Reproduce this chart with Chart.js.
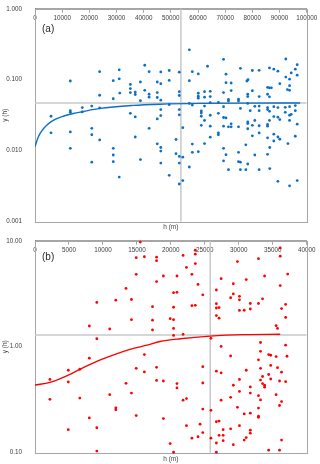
<!DOCTYPE html>
<html lang="en">
<head>
<meta charset="UTF-8">
<title>y(h) vs h</title>
<style>
    body { margin: 0; background: #fff; }
    .box { position: relative; width: 320px; height: 232px; }
</style>
</head>
<body>
<div class="box"><canvas id="chartA"></canvas></div>
<div class="box"><canvas id="chartB"></canvas></div>

<script src="https://cdn.jsdelivr.net/npm/chart.js"></script>
<script>
// ---- panel (a) ----
const aH = [23800,13000,31000,28800,31000,40400,42000,35100,35100,35100,
    38800,45000,31200,36900,36900,40400,42000,42000,45000,45000,
    23800,28800,38800,20900,23800,17400,17400,13000,13000,5900,
    35100,36900,45000,5900,13000,20900,20900,23800,42000,36900,
    45000,13000,28800,28800,28800,20900,38800,31000,
    56800,69400,92300,63500,75600,86300,87900,89400,96500,95800,
    46300,49400,53100,57900,60100,70300,80000,82500,94300,96500,
    92300,93700,46300,49400,56800,70300,72200,78000,78400,90100,
    93700,85600,86300,87000,72200,62400,64500,69400,80000,92900,
    93700,53100,53100,60100,60100,60100,62400,64500,78300,78300,
    85600,82500,86300,46300,71200,71200,74900,74900,56800,57900,
    64500,67500,69400,75600,78300,80900,82500,85600,87900,89400,
    92100,93700,95800,46300,49400,53100,61200,61200,62400,64500,
    67500,69400,70300,79200,82500,85600,86300,46300,53100,61200,
    62400,80900,86300,89400,90100,93700,92100,94300,95800,93700,
    87900,78300,
    54400,64500,61200,69400,71200,72200,72200,74900,78300,78300,
    80000,80000,82500,82500,85600,85600,96500,87900,89400,90100,
    87900,85600,95800,93100,51900,67500,67500,64500,62400,57900,
    60100,57900,77600,69400,86400,46300,46300,51900,53100,54400,
    70300,74900,80900,85600,69400,74900,75600,78300,46300,53100,
    56800,71200,75600,77600,82500,86400,49400,54400,53100,89400,
    96500,93700];
const aY = [0.130,0.096,0.138,0.097,0.103,0.160,0.130,0.086,0.075,0.066,
    0.093,0.093,0.065,0.067,0.062,0.071,0.0625,0.0568,0.066,0.0562,
    0.0605,0.054,0.0506,0.0426,0.040,0.0405,0.0352,0.0367,0.0348,0.0306,
    0.0337,0.0299,0.0281,0.0179,0.0184,0.0207,0.0168,0.0142,0.0207,0.0156,
    0.0125,0.0108,0.0108,0.0087,0.0070,0.0069,0.0075,0.00426,
    0.264,0.194,0.196,0.155,0.145,0.147,0.141,0.132,0.163,0.141,
    0.129,0.135,0.128,0.130,0.121,0.120,0.135,0.136,0.125,0.116,
    0.109,0.102,0.088,0.098,0.097,0.091,0.090,0.096,0.100,0.088,
    0.0825,0.078,0.077,0.077,0.0703,0.068,0.0688,0.066,0.070,0.0726,
    0.071,0.068,0.060,0.0645,0.0586,0.055,0.0568,0.058,0.0625,0.058,
    0.0625,0.058,0.0575,0.0516,0.0527,0.050,0.0533,0.050,0.0464,0.044,
    0.0475,0.048,0.0418,0.0395,0.0464,0.0422,0.0426,0.0405,0.0418,0.0405,
    0.0409,0.0418,0.0432,0.038,0.0445,0.038,0.0363,0.034,0.0426,0.0316,
    0.0337,0.0294,0.029,0.0367,0.0367,0.038,0.0359,0.0313,0.032,0.0306,
    0.0267,0.0267,0.0267,0.0297,0.0275,0.0267,0.0348,0.0326,0.0367,0.0316,
    0.0303,0.0255,
    0.0211,0.0222,0.0228,0.0222,0.0217,0.0217,0.0239,0.0217,0.0242,0.0204,
    0.0228,0.0162,0.0225,0.0178,0.0235,0.0222,0.0237,0.0171,0.0156,0.0145,
    0.0137,0.0152,0.016,0.0126,0.0144,0.0179,0.0168,0.0155,0.0126,0.0124,
    0.0097,0.0095,0.0121,0.0108,0.0111,0.0111,0.0099,0.0091,0.0083,0.0081,
    0.0088,0.0095,0.0087,0.0089,0.0072,0.0070,0.0069,0.0065,0.0067,0.0067,
    0.0059,0.0054,0.0054,0.0054,0.0054,0.0056,0.0045,0.0038,0.0034,0.0037,
    0.0038,0.0032];
// fitted model
const aFitH = [0,1200,2500,4300,6700,10400,14100,17300,23900,36100,46000,60800,79200,97600];
const aFitY = [0.0114,0.0156,0.019,0.0228,0.0267,0.0306,0.0334,0.0354,0.0395,0.0435,0.0452,0.0464,0.0469,0.047];
const aSill = 0.047;
const aRange = 53700;
const aXTicks = [0,10000,20000,30000,40000,50000,60000,70000,80000,90000,100000];
const aYTicks = [0.001,0.01,0.1,1];

// ---- panel (b) ----
const bH = [15500,14900,16100,17900,17900,14900,17900,13400,9100,11900,
    14200,17300,14200,17300,8000,11000,17300,9100,8000,2200,
    4900,6600,4900,16100,14900,17900,16100,17900,13400,14200,
    11000,2200,6600,11900,11900,14900,8000,9100,4900,9100,
    36100,23600,23600,21800,36100,32900,29800,23600,22300,18900,
    20900,23100,27400,31100,33800,37200,24000,29200,36100,26700,
    20400,20900,24700,29200,28800,30100,30100,33500,26700,31700,
    32900,36900,20400,23100,23600,26700,27100,31700,30100,30800,
    36300,26700,27100,36900,19900,20400,20400,35500,35700,20400,
    21800,25900,27400,33200,36900,
    33200,28800,34400,34700,35500,37100,32900,24700,34700,35700,
    33200,31100,36300,26700,27400,34400,33500,34700,30100,33200,
    36000,36900,18900,20900,20900,24700,29200,33500,33800,33800,
    31700,30100,31700,35500,32900,33200,36300,28800,22300,21800,
    27400,36000,29800,32900,24700,25900,30800,31700,32900,32900,
    18900,26700,27100,24300,22300,30100,24700,24000,23100,27100,
    27700,27700,28800,31700,31700,31100,30800,36300,25900,27700,
    26700,29200,19900,34400,36000,20400,26700];
const bY = [9.72,6.92,7.07,7.01,6.49,4.82,4.12,3.55,2.62,2.75,
    2.79,2.39,1.80,1.78,1.57,1.47,1.44,1.19,0.78,0.491,
    0.600,0.613,0.465,0.843,0.626,0.640,0.579,0.481,0.452,0.365,
    0.353,0.319,0.328,0.265,0.254,0.224,0.213,0.172,0.165,0.1035,
    8.56,8.14,7.47,7.27,7.16,6.78,6.36,6.09,5.60,4.65,
    4.65,4.82,4.39,4.30,4.65,4.85,3.87,3.93,3.78,3.43,
    3.24,3.26,3.09,3.15,2.90,2.99,2.77,2.83,2.55,2.56,
    2.56,2.51,2.36,2.44,2.46,2.32,2.34,2.27,2.20,2.21,
    2.29,1.97,1.86,1.89,1.84,1.80,1.49,1.58,1.49,1.28,
    1.31,1.20,1.006,1.096,1.035,
    0.905,0.819,0.843,0.831,0.808,0.813,0.752,0.648,0.667,0.634,
    0.626,0.600,0.575,0.588,0.567,0.547,0.524,0.496,0.491,0.485,
    0.475,0.468,0.475,0.449,0.409,0.455,0.433,0.449,0.433,0.415,
    0.418,0.379,0.365,0.353,0.345,0.315,0.304,0.333,0.324,0.313,
    0.313,0.279,0.268,0.264,0.258,0.251,0.232,0.236,0.221,0.216,
    0.210,0.196,0.199,0.186,0.180,0.180,0.155,0.1414,0.137,0.146,
    0.146,0.165,0.168,0.163,0.153,0.139,0.1315,0.1315,0.137,0.130,
    0.1234,0.119,0.122,0.1057,0.1057,0.101,0.101];
const bFitH = [0,2200,4900,6600,9100,12000,14500,16500,18400,21400,25800,30600,36100];
const bFitY = [0.436,0.461,0.540,0.613,0.727,0.855,0.964,1.035,1.12,1.19,1.26,1.30,1.31];
const bSill = 1.29;
const bRange = 25800;
const bXTicks = [0,5000,10000,15000,20000,25000,30000,35000,40000];
const bYTicks = [0.1,1,10];

Chart.defaults.font.family = '"Liberation Sans", Arial, sans-serif';
Chart.defaults.color = '#404040';

// plot frame + panel letter
const frame = {
    id: 'frame',
    beforeDatasetsDraw(chart) {
        const a = chart.chartArea, c = chart.ctx;
        c.save();
        c.strokeStyle = '#a6a6a6';
        c.lineWidth = 1;
        c.strokeRect(Math.round(a.left) + 0.5, Math.round(a.top) + 0.5,
            Math.round(a.right - a.left), Math.round(a.bottom - a.top));
        c.restore();
    },
    afterDraw(chart, args, opts) {
        const a = chart.chartArea, c = chart.ctx;
        c.save();
        c.fillStyle = '#262626';
        c.font = '10px "Liberation Sans", Arial, sans-serif';
        c.textBaseline = 'middle';
        c.fillText(opts.text, a.left + 7, a.top + opts.dy);
        c.restore();
    }
};

function pts(xs, ys) {
    return xs.map((x, i) => ({ x: x, y: ys[i] }));
}

function makeChart(id, o) {
    return new Chart(document.getElementById(id), {
        type: 'scatter',
        data: {
            datasets: [
                {
                    data: pts(o.h, o.y),
                    backgroundColor: o.color,
                    pointRadius: 1.4,
                    pointBorderWidth: 0,
                    clip: false
                },
                {
                    data: pts(o.fitH, o.fitY),
                    showLine: true,
                    borderColor: o.color,
                    borderWidth: 1.4,
                    pointRadius: 0,
                    cubicInterpolationMode: 'monotone'
                },
                {
                    data: [{ x: o.xTicks[0], y: o.sill }, { x: o.xTicks[o.xTicks.length - 1], y: o.sill }],
                    showLine: true,
                    borderColor: '#c8c8c8',
                    borderWidth: 1.5,
                    pointRadius: 0
                },
                {
                    data: [{ x: o.range, y: o.yTicks[0] }, { x: o.range, y: o.yTicks[o.yTicks.length - 1] }],
                    showLine: true,
                    borderColor: '#c8c8c8',
                    borderWidth: 1.5,
                    pointRadius: 0
                }
            ]
        },
        options: {
            responsive: true,
            maintainAspectRatio: false,
            animation: false,
            layout: { padding: { top: 0, right: 13.3, bottom: 0, left: 0 } },
            plugins: {
                legend: { display: false },
                tooltip: { enabled: false },
                frame: { text: o.label, dy: o.labelDy }
            },
            scales: {
                x: {
                    type: 'linear',
                    position: 'top',
                    min: o.xTicks[0],
                    max: o.xTicks[o.xTicks.length - 1],
                    afterBuildTicks: s => { s.ticks = o.xTicks.map(v => ({ value: v })); },
                    ticks: {
                        callback: v => String(v),
                        font: { size: 6.3 },
                        mirror: true,      // labels sit inside the plot, under the top edge
                        padding: 5.2,
                        maxRotation: 0,
                        autoSkip: false
                    },
                    grid: { drawOnChartArea: false, tickLength: -4, color: '#a6a6a6' },
                    border: { color: '#a6a6a6' },
                    afterFit: s => { s.height = o.top; s.paddingLeft = 0; s.paddingRight = 0; }
                },
                x2: {
                    type: 'linear',
                    position: 'bottom',
                    min: 0,
                    max: 1,
                    ticks: { display: false },
                    grid: { display: false },
                    border: { display: false },
                    title: { display: true, text: 'h (m)', font: { size: 6.5 }, padding: { top: 0, bottom: 1 } },
                    afterFit: s => { s.height = o.bottom; }
                },
                y: {
                    type: 'logarithmic',
                    min: o.yTicks[0],
                    max: o.yTicks[o.yTicks.length - 1],
                    afterBuildTicks: s => { s.ticks = o.yTicks.map(v => ({ value: v })); },
                    ticks: { callback: v => Number(v).toFixed(o.dec), font: { size: 6.3 }, padding: 5 },
                    grid: { display: false },
                    border: { color: '#868686' },
                    title: { display: true, text: 'y (h)', font: { size: 6.5 }, padding: { top: 1, bottom: 0 } },
                    afterFit: s => { s.width = 35; }
                }
            }
        },
        plugins: [frame]
    });
}

makeChart('chartA', {
    h: aH, y: aY, fitH: aFitH, fitY: aFitY, sill: aSill, range: aRange,
    xTicks: aXTicks, yTicks: aYTicks, dec: 3, color: '#0b6fc6',
    label: '(a)', labelDy: 20, top: 5, bottom: 10.3
});
makeChart('chartB', {
    h: bH, y: bY, fitH: bFitH, fitY: bFitY, sill: bSill, range: bRange,
    xTicks: bXTicks, yTicks: bYTicks, dec: 2, color: '#ff0000',
    label: '(b)', labelDy: 16, top: 4, bottom: 11.3
});
</script>
</body>
</html>
